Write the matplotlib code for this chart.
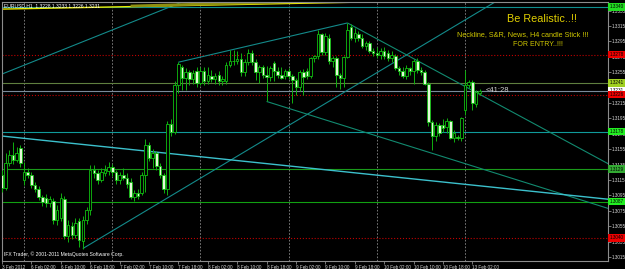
import numpy as np
import matplotlib
matplotlib.use("Agg")
import matplotlib.pyplot as plt
import matplotlib.transforms as mtrans

plt.rcParams['font.family'] = ['Liberation Sans', 'DejaVu Sans']

# EURUSD H1 candles (open, high, low, close), one list per trading day
fri03 = [(1.3122, 1.3128, 1.3100, 1.3105), (1.3105, 1.3150, 1.3102, 1.3137), (1.3137, 1.3154, 1.3133, 1.3147),
         (1.3147, 1.3164, 1.3136, 1.3141), (1.3141, 1.3158, 1.3138, 1.3150), (1.3156, 1.3160, 1.3132, 1.3137)]
mon06 = [(1.3115, 1.3138, 1.3109, 1.3125), (1.3125, 1.3130, 1.3117, 1.3121), (1.3121, 1.3126, 1.3104, 1.3109),
         (1.3109, 1.3113, 1.3100, 1.3103), (1.3103, 1.3107, 1.3089, 1.3093), (1.3093, 1.3096, 1.3081, 1.3086),
         (1.3092, 1.3097, 1.3080, 1.3085), (1.3085, 1.3094, 1.3080, 1.3090), (1.3088, 1.3092, 1.3058, 1.3063),
         (1.3063, 1.3083, 1.3057, 1.3076), (1.3066, 1.3098, 1.3062, 1.3092), (1.3090, 1.3094, 1.3038, 1.3042),
         (1.3042, 1.3063, 1.3035, 1.3057), (1.3055, 1.3060, 1.3038, 1.3044), (1.3044, 1.3066, 1.3040, 1.3059),
         (1.3062, 1.3066, 1.3028, 1.3037), (1.3036, 1.3068, 1.3026, 1.3063), (1.3063, 1.3080, 1.3058, 1.3076),
         (1.3076, 1.3134, 1.3070, 1.3128), (1.3128, 1.3135, 1.3118, 1.3124), (1.3124, 1.3128, 1.3110, 1.3115),
         (1.3115, 1.3130, 1.3112, 1.3125), (1.3124, 1.3135, 1.3120, 1.3128), (1.3127, 1.3138, 1.3122, 1.3132)]
tue07 = [(1.3132, 1.3136, 1.3120, 1.3125), (1.3125, 1.3128, 1.3110, 1.3115), (1.3115, 1.3126, 1.3110, 1.3121),
         (1.3121, 1.3130, 1.3115, 1.3118), (1.3118, 1.3124, 1.3104, 1.3110), (1.3112, 1.3118, 1.3090, 1.3093),
         (1.3093, 1.3102, 1.3088, 1.3098), (1.3098, 1.3103, 1.3090, 1.3094), (1.3098, 1.3126, 1.3096, 1.3122),
         (1.3122, 1.3168, 1.3100, 1.3160), (1.3160, 1.3165, 1.3140, 1.3144), (1.3144, 1.3155, 1.3130, 1.3150),
         (1.3150, 1.3153, 1.3128, 1.3133), (1.3133, 1.3137, 1.3118, 1.3122), (1.3122, 1.3124, 1.3098, 1.3103),
         (1.3103, 1.3192, 1.3095, 1.3188), (1.3188, 1.3194, 1.3172, 1.3178), (1.3178, 1.3243, 1.3175, 1.3238),
         (1.3238, 1.3268, 1.3228, 1.3266), (1.3262, 1.3265, 1.3232, 1.3248), (1.3248, 1.3260, 1.3232, 1.3255),
         (1.3255, 1.3258, 1.3238, 1.3246), (1.3246, 1.3258, 1.3240, 1.3254), (1.3257, 1.3262, 1.3236, 1.3241)]
wed08 = [(1.3241, 1.3262, 1.3238, 1.3257), (1.3257, 1.3262, 1.3238, 1.3243), (1.3243, 1.3262, 1.3240, 1.3252),
         (1.3250, 1.3258, 1.3242, 1.3246), (1.3246, 1.3254, 1.3240, 1.3250), (1.3252, 1.3256, 1.3238, 1.3243),
         (1.3243, 1.3250, 1.3239, 1.3246), (1.3244, 1.3268, 1.3240, 1.3265), (1.3265, 1.3284, 1.3262, 1.3269),
         (1.3269, 1.3284, 1.3265, 1.3270), (1.3270, 1.3283, 1.3266, 1.3272), (1.3272, 1.3280, 1.3250, 1.3255),
         (1.3255, 1.3272, 1.3250, 1.3268), (1.3268, 1.3285, 1.3264, 1.3280), (1.3280, 1.3284, 1.3264, 1.3268),
         (1.3268, 1.3272, 1.3245, 1.3255), (1.3255, 1.3265, 1.3241, 1.3262), (1.3262, 1.3265, 1.3248, 1.3252),
         (1.3252, 1.3263, 1.3217, 1.3249), (1.3249, 1.3263, 1.3244, 1.3260), (1.3267, 1.3270, 1.3244, 1.3257),
         (1.3257, 1.3262, 1.3248, 1.3252), (1.3252, 1.3262, 1.3246, 1.3248), (1.3250, 1.3259, 1.3246, 1.3256)]
thu09 = [(1.3256, 1.3260, 1.3246, 1.3250), (1.3250, 1.3253, 1.3215, 1.3245), (1.3245, 1.3248, 1.3225, 1.3236),
         (1.3236, 1.3258, 1.3230, 1.3255), (1.3255, 1.3259, 1.3226, 1.3249), (1.3257, 1.3260, 1.3246, 1.3250),
         (1.3250, 1.3275, 1.3248, 1.3273), (1.3273, 1.3278, 1.3268, 1.3276), (1.3276, 1.3310, 1.3272, 1.3304),
         (1.3304, 1.3306, 1.3278, 1.3281), (1.3281, 1.3306, 1.3278, 1.3302), (1.3300, 1.3304, 1.3266, 1.3270),
         (1.3270, 1.3276, 1.3262, 1.3274), (1.3274, 1.3276, 1.3236, 1.3251), (1.3251, 1.3254, 1.3233, 1.3247),
         (1.3248, 1.3276, 1.3236, 1.3275), (1.3275, 1.3319, 1.3274, 1.3310), (1.3314, 1.3318, 1.3297, 1.3300),
         (1.3300, 1.3312, 1.3294, 1.3306), (1.3304, 1.3308, 1.3296, 1.3300), (1.3300, 1.3304, 1.3286, 1.3289),
         (1.3289, 1.3296, 1.3284, 1.3293), (1.3293, 1.3296, 1.3280, 1.3282), (1.3282, 1.3286, 1.3276, 1.3280)]
fri10 = [(1.3280, 1.3288, 1.3274, 1.3278), (1.3278, 1.3286, 1.3272, 1.3282), (1.3282, 1.3288, 1.3272, 1.3276),
         (1.3280, 1.3284, 1.3270, 1.3274), (1.3274, 1.3282, 1.3268, 1.3278), (1.3276, 1.3279, 1.3258, 1.3261),
         (1.3261, 1.3263, 1.3252, 1.3256), (1.3256, 1.3262, 1.3248, 1.3250), (1.3250, 1.3264, 1.3246, 1.3260),
         (1.3260, 1.3262, 1.3252, 1.3257), (1.3257, 1.3272, 1.3240, 1.3270), (1.3270, 1.3273, 1.3254, 1.3258),
         (1.3258, 1.3262, 1.3252, 1.3255), (1.3255, 1.3258, 1.3238, 1.3240), (1.3240, 1.3242, 1.3185, 1.3190),
         (1.3190, 1.3193, 1.3154, 1.3172), (1.3172, 1.3190, 1.3166, 1.3186), (1.3186, 1.3189, 1.3172, 1.3176),
         (1.3186, 1.3194, 1.3178, 1.3183), (1.3184, 1.3196, 1.3176, 1.3191), (1.3191, 1.3193, 1.3168, 1.3170),
         (1.3170, 1.3180, 1.3165, 1.3176), (1.3171, 1.3174, 1.3167, 1.3169), (1.3169, 1.3197, 1.3166, 1.3195)]
mon13 = [(1.3206, 1.3258, 1.3200, 1.3238), (1.3238, 1.3245, 1.3234, 1.3242), (1.3242, 1.3245, 1.3206, 1.3215),
         (1.3214, 1.3232, 1.3210, 1.3229), (1.3228, 1.3233, 1.3226, 1.3231)]

# bottom time scale
tick_bars = [0, 8, 16, 24, 32, 40, 48, 56, 64, 72, 80, 88, 96, 104, 112, 120, 128]
tick_labels = ["3 Feb 2012", "6 Feb 02:00", "6 Feb 10:00", "6 Feb 18:00", "7 Feb 02:00", "7 Feb 10:00",
               "7 Feb 18:00", "8 Feb 02:00", "8 Feb 10:00", "8 Feb 18:00", "9 Feb 02:00", "9 Feb 10:00",
               "9 Feb 18:00", "10 Feb 02:00", "10 Feb 10:00", "10 Feb 18:00", "13 Feb 02:00"]
day_seps = [6, 30, 54, 78, 102, 126]
price_ticks = [1.3015, 1.3035, 1.3055, 1.3075, 1.3095, 1.3115, 1.3135, 1.3155, 1.3175,
               1.3195, 1.3215, 1.3235, 1.3255, 1.3275, 1.3295, 1.3315, 1.3335]

# horizontal levels (S&R lines) and their price boxes
levels = [1.3340, 1.3278, 1.3241, 1.3231, 1.3226, 1.3178, 1.3129, 1.3087, 1.3040]
level_colors = ["#0f8f8f", "#c00000", "#5f7f3f", "#7a8a9a", "#c00000", "#109a9a", "#1a9a1a", "#12a012", "#c00000"]
level_styles = ["-", ":", "-", "-", ":", "-", "-", "-", ":"]
box_colors = ["#22dd22", "#ee0000", "#a0d020", "#ffffff", "#ee0000", "#22ee22", "#33aa33", "#22ee22", "#ee0000"]

# trendlines: (bar1, price1, bar2, price2)
trend_teal = [(22, 1.3026, 135.5, 1.3350), (0.2, 1.3253, 50.5, 1.3349), (48, 1.3268, 94, 1.3319)]
trend_green = [(94, 1.3319, 165, 1.3136), (72, 1.3217, 165, 1.3078)]
trend_cyan = [(0.2, 1.3172, 165, 1.3090)]
trend_yellow = [(0.2, 1.3337, 118.5, 1.3348)]
trend_olive = [(35, 1.3341, 98, 1.3349)]

bars = np.array(fri03 + mon06 + tue07 + wed08 + thu09 + fri10 + mon13)
o, h, l, c = bars.T
x = np.arange(len(bars))

W, H = 625, 269
fig = plt.figure(figsize=(W/100, H/100), dpi=100, facecolor="black")
ax = fig.add_axes([2/W, 8/H, 606/W, 259/H], facecolor="black")
ax.set_xlim(0.2, 164.9)
ax.set_ylim(1.30098, 1.33462)

for b in day_seps:
    ax.axvline(b, color="#8a8a8a", ls=(0, (2, 2)), lw=0.6, zorder=1)

for p, col, ls in zip(levels, level_colors, level_styles):
    ax.axhline(p, color=col, ls=ls, lw=0.8, zorder=2)

for segs, col, lw in ((trend_teal, "#138a8a", 0.8), (trend_green, "#128a70", 0.8),
                      (trend_cyan, "#3cc0cc", 1.0), (trend_yellow, "#e8e800", 1.0),
                      (trend_olive, "#8f8f10", 2.0)):
    for x1, p1, x2, p2 in segs:
        ax.plot([x1, x2], [p1, p2], color=col, lw=lw, zorder=2, solid_capstyle="butt")

# candles: bull = dark body, bear = pale body (MT4 green on black)
up = c >= o
ax.vlines(x, l, h, color="#10b010", lw=0.7, zorder=3)
ax.bar(x[up], (c - o)[up], bottom=o[up], width=0.7, color="black", edgecolor="#10c010", lw=0.6, zorder=4)
ax.bar(x[~up], (o - c)[~up], bottom=c[~up], width=0.7, color="#e4f8d8", edgecolor="#10c010", lw=0.6, zorder=4)

for s in ax.spines.values():
    s.set_color("#8c8c8c"); s.set_linewidth(0.8)

ax.yaxis.tick_right()
ax.set_yticks(price_ticks)
ax.set_yticklabels([f"{p:.4f}" for p in price_ticks])
ax.set_xticks(tick_bars)
ax.set_xticklabels(tick_labels, ha="left")
ax.tick_params(axis="both", colors="#8c8c8c", labelcolor="#d8d8d8", labelsize=3.3, length=2, width=0.6, pad=0.8)

tr = mtrans.blended_transform_factory(ax.transAxes, ax.transData)
for p, bc in zip(levels, box_colors):
    ax.text(1.003, p, f"{p:.4f}", transform=tr, fontsize=3.3, color="black", va="center", ha="left",
            clip_on=False, zorder=10, bbox=dict(boxstyle="square,pad=0.3", fc=bc, ec="none"))

ax.text(0.004, 0.985, "EURUSD,H1  1.3228 1.3233 1.3226 1.3231", transform=ax.transAxes,
        fontsize=3.6, color="white", va="center", ha="left")
ax.text(0.003, 0.027, "IFX Trader, \u00a9 2001-2011 MetaQuotes Software Corp.", transform=ax.transAxes,
        fontsize=3.6, color="white", va="center", ha="left")
ax.text(x[-1] + 1.5, c[-1], "<41:28", fontsize=5.5, color="#d0d0d0", va="center", ha="left", zorder=6)

ax.text(0.891, 0.934, "Be Realistic..!!", transform=ax.transAxes, fontsize=7.8,
        color="#e2d000", ha="center", va="center")
ax.text(0.860, 0.876, "Neckline, S&R, News, H4 candle Stick !!!", transform=ax.transAxes, fontsize=5.2,
        color="#d0c800", ha="center", va="center")
ax.text(0.884, 0.834, "FOR ENTRY..!!!", transform=ax.transAxes, fontsize=5.0,
        color="#d0c800", ha="center", va="center")

fig.savefig("out.png", dpi=100, facecolor="black")
